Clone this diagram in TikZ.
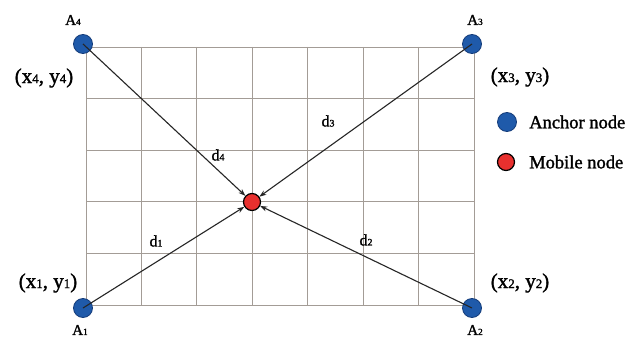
\documentclass[tikz,border=0pt]{standalone}
\usepackage{fontspec}
\setmainfont[FakeBold=1.2,AutoFakeBold=1.2]{Liberation Serif}
\newfontfamily\heavyserif[FakeBold=1.5]{Liberation Serif}
\usetikzlibrary{arrows.meta}
\definecolor{anchorblue}{HTML}{1F5AAA}
\definecolor{anchoredge}{HTML}{143C7A}
\definecolor{mobred}{HTML}{E8302E}
\definecolor{gridgray}{HTML}{A39C96}
\newcommand\sbx[1]{\scalebox{0.62}{#1}}
\tikzset{
  anchornode/.style={circle,fill=anchorblue,draw=anchoredge,line width=0.8pt,minimum size=19pt,inner sep=0pt},
  mobilenode/.style={circle,fill=mobred,draw=black,line width=1.2pt,minimum size=17pt,inner sep=0pt},
  lbl/.style={font=\heavyserif\fontsize{15}{17}\selectfont,inner sep=0pt},
  coordlbl/.style={font=\heavyserif\fontsize{21}{23}\selectfont,inner sep=0pt},
  dlbl/.style={font=\heavyserif\fontsize{16}{18}\selectfont,inner sep=0pt},
  legendlbl/.style={font=\heavyserif\fontsize{18.5}{20}\selectfont,inner sep=0pt,anchor=west},
  gridline/.style={draw=gridgray,line width=0.75pt},
  distline/.style={draw=black!85,line width=1.1pt,-{Stealth[length=7pt,width=5pt]}}
}
\begin{document}
\begin{tikzpicture}[x=1pt,y=-1pt]
\useasboundingbox[fill=white] (0,0) rectangle (637,337);
% grid
\foreach \i in {0,...,7} {
  \draw[gridline] ({86+\i*55.43},47) -- ({86+\i*55.43},305);
}
\foreach \j in {0,...,5} {
  \draw[gridline] (86,{47+\j*51.6}) -- (474,{47+\j*51.6});
}
% nodes
\node[anchornode] (a4) at (83,44) {};
\node[anchornode] (a3) at (472,44) {};
\node[anchornode] (a1) at (83,308) {};
\node[anchornode] (a2) at (472,308) {};
\node[mobilenode] (m) at (252,202) {};
% connectors
\draw[distline] (a1.center) -- (m);
\draw[distline] (a2.center) -- (m);
\draw[distline] (a3.center) -- (m);
\draw[distline] (a4.center) -- (m);
% labels
\node[lbl] (la4) at (73,20) {A\sbx{4}};
\node[lbl] (la3) at (475,20) {A\sbx{3}};
\node[lbl] (la1) at (80,330) {A\sbx{1}};
\node[lbl] (la2) at (475,330) {A\sbx{2}};
\node[coordlbl] (c4) at (44,78) {(x\sbx{4}, y\sbx{4})};
\node[coordlbl] (c3) at (520,77) {(x\sbx{3}, y\sbx{3})};
\node[coordlbl] (c1) at (48,283) {(x\sbx{1}, y\sbx{1})};
\node[coordlbl] (c2) at (520,283) {(x\sbx{2}, y\sbx{2})};
\node[dlbl] (d4) at (218,155) {d\sbx{4}};
\node[dlbl] (d3) at (328,121) {d\sbx{3}};
\node[dlbl] (d1) at (156,241) {d\sbx{1}};
\node[dlbl] (d2) at (366,240) {d\sbx{2}};
% legend
\node[anchornode] (lga) at (507,122) {};
\node[legendlbl] (lgat) at (529,122) {Anchor node};
\node[mobilenode] (lgm) at (506,162) {};
\node[legendlbl] (lgmt) at (529,162) {Mobile node};
\end{tikzpicture}
\end{document}
